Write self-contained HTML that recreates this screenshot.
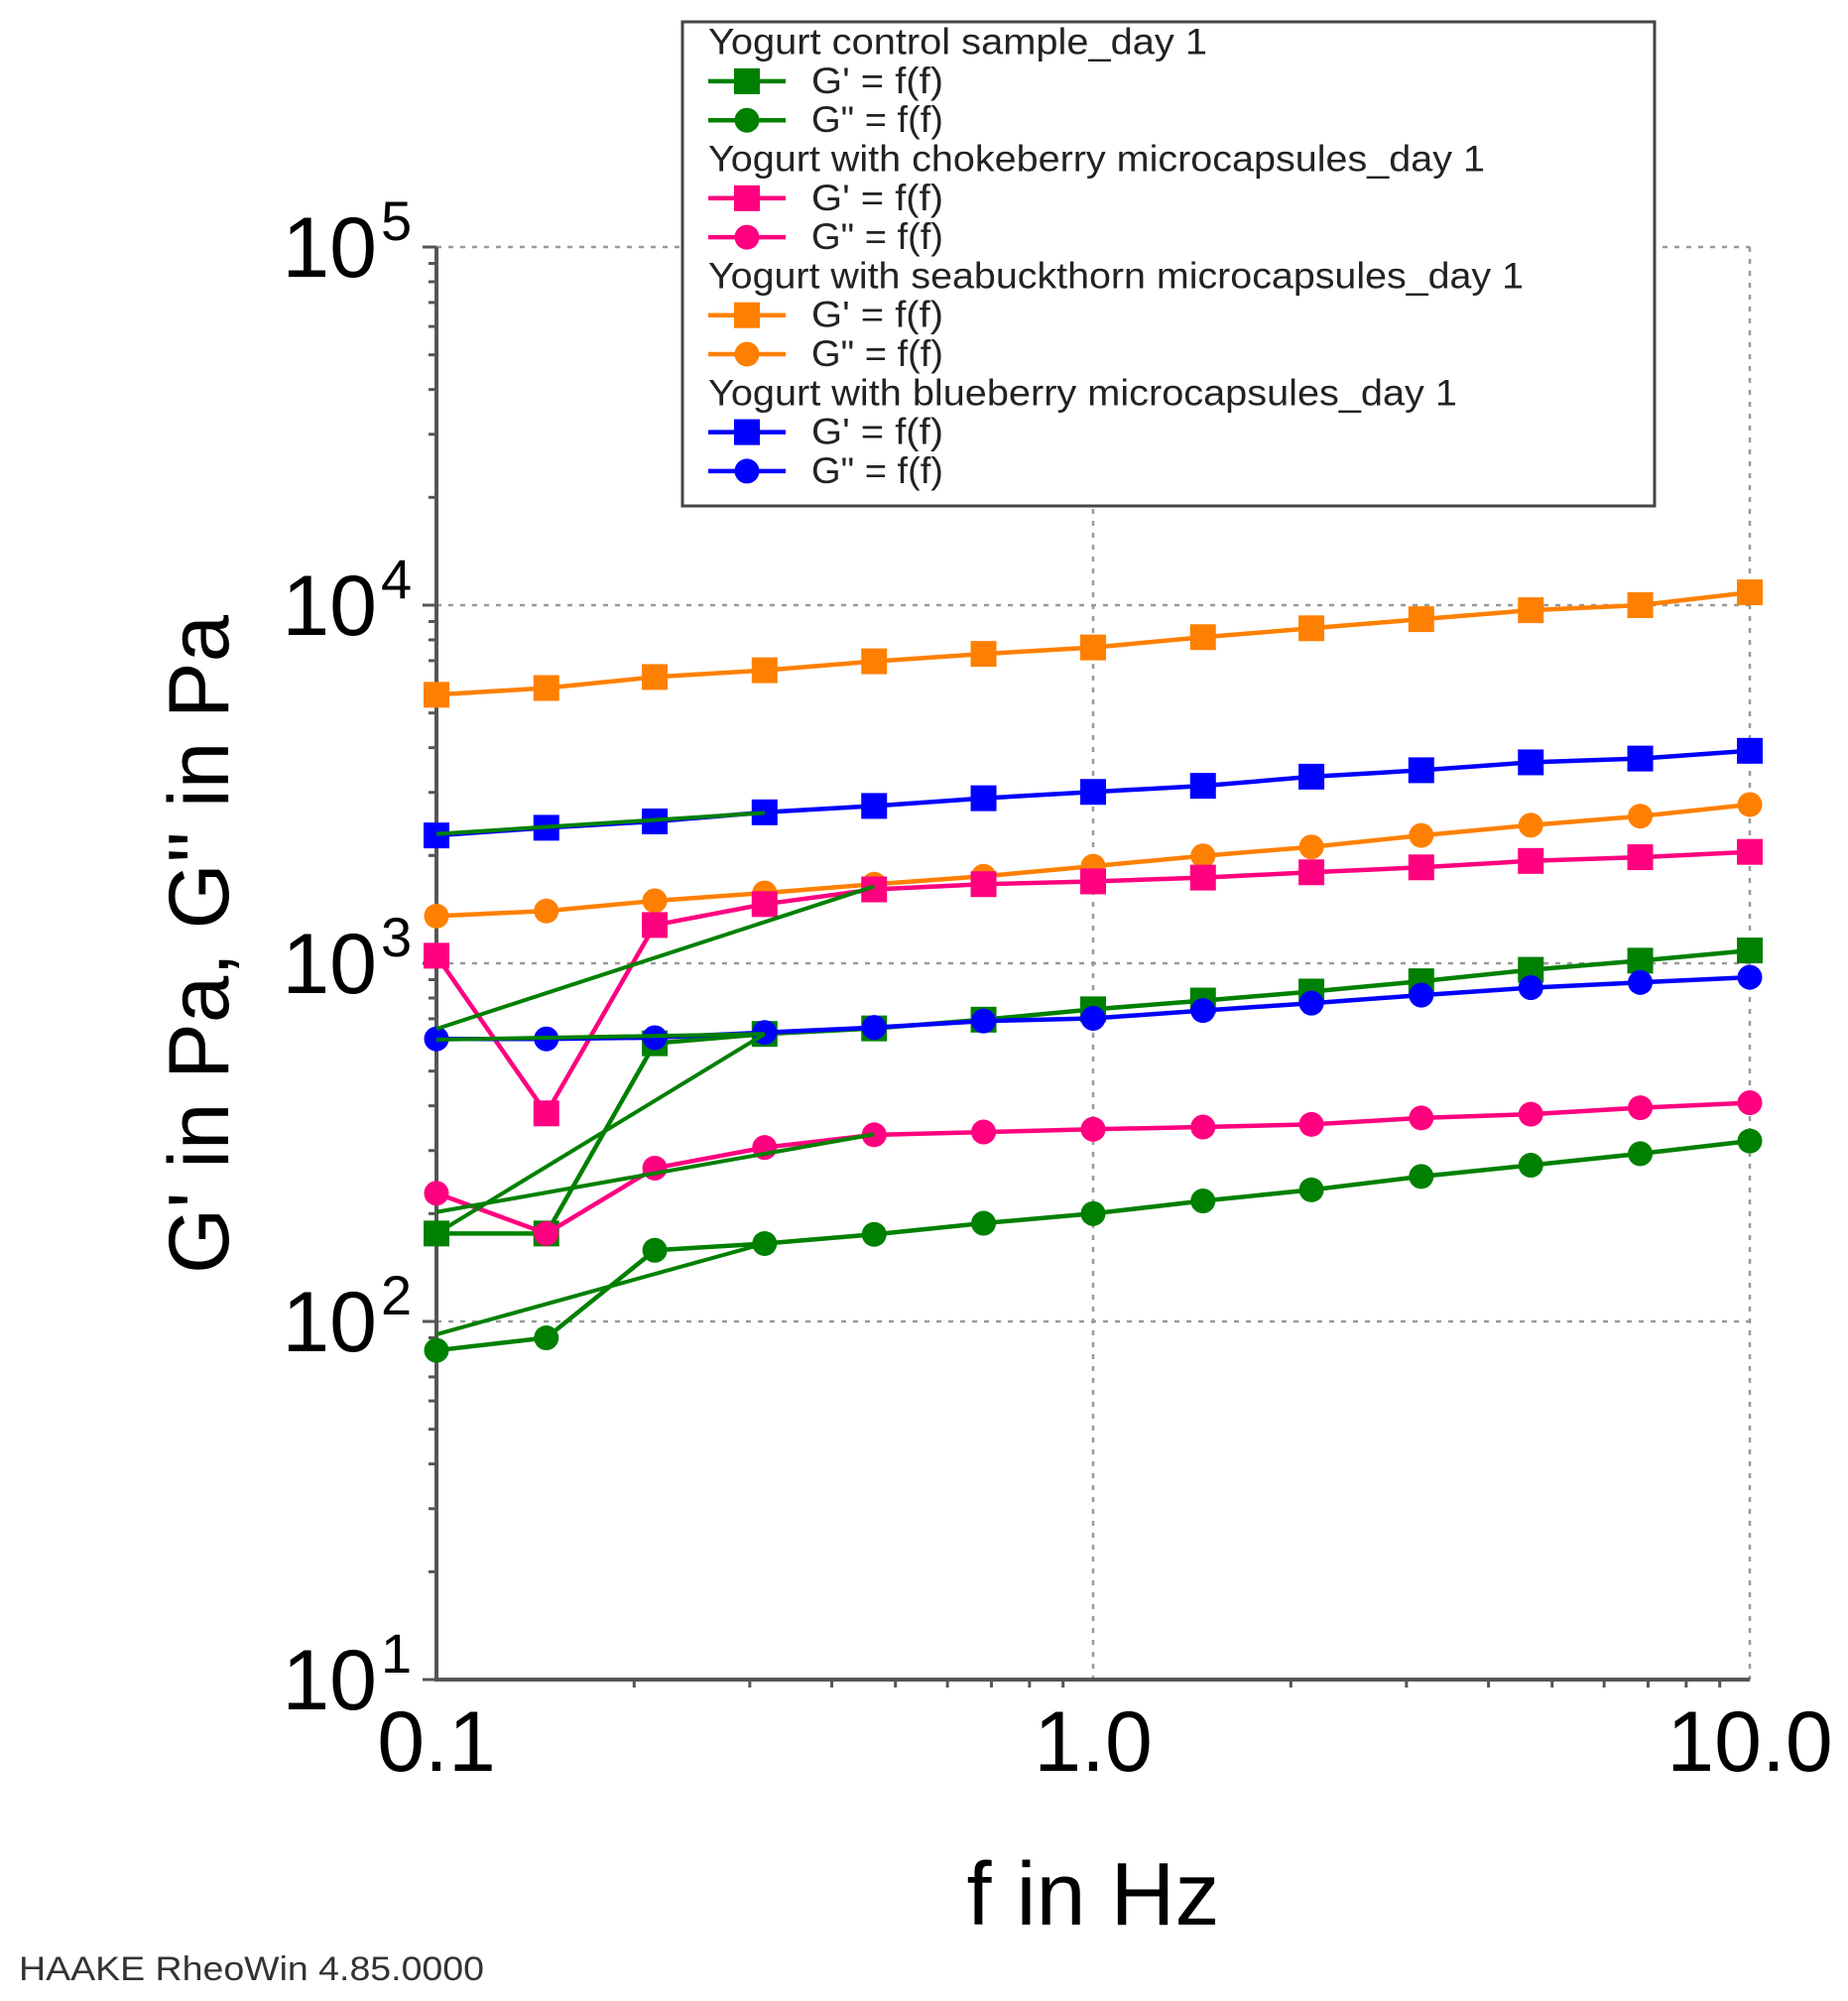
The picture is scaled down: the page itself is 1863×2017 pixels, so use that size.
<!DOCTYPE html>
<html><head><meta charset="utf-8"><style>
html,body{margin:0;padding:0;background:#fff;}
svg{display:block;font-family:"Liberation Sans",sans-serif;}
</style></head><body>
<svg id="chart" width="1863" height="2017" viewBox="0 0 1863 2017" xmlns="http://www.w3.org/2000/svg">
<g id="grid"></g>
<g id="axes"></g>
<g id="series"></g>
<g id="legend"></g>
<text x="1102" y="1940" font-size="90" text-anchor="middle" fill="#000">f in Hz</text>
<text transform="translate(230,952) rotate(-90)" font-size="86" text-anchor="middle" textLength="664" lengthAdjust="spacingAndGlyphs" fill="#000">G' in Pa, G'' in Pa</text>
<text x="19" y="1996" font-size="34" textLength="469" lengthAdjust="spacingAndGlyphs" fill="#333">HAAKE RheoWin 4.85.0000</text>
</svg>
<script>
const freqs = [0.1,0.147,0.215,0.316,0.464,0.681,1.0,1.47,2.15,3.16,4.64,6.81,10];
const xTickLabels = ["0.1","1.0","10.0"];
const xTickValues = [0.1,1,10];
const yTickExps = [1,2,3,4,5];
const controlG1 = [176,176,598,635,658,696,744,787,834,891,959,1017,1086];
const controlG2 = [83,90,158,165,175,188,200,217,233,254,273,294,319];
const chokeG1 = [1050,381,1279,1463,1608,1663,1693,1735,1795,1853,1931,1978,2047];
const chokeG2 = [228,176,268,306,332,338,344,349,355,370,379,395,408];
const seaG1 = [5620,5870,6300,6580,6970,7310,7620,8140,8620,9140,9680,10000,10860];
const seaG2 = [1355,1400,1495,1572,1663,1750,1867,1995,2113,2275,2430,2575,2775];
const blueG1 = [2275,2390,2490,2640,2750,2890,3010,3130,3320,3460,3640,3730,3920];
const blueG2 = [615,615,620,641,662,690,702,738,774,815,855,884,914];
// extra control-sample sweep segments: [f1, v1, f2, v2]
const controlExtraSegs = [
  [0.1,2297,0.316,2630],
  [0.1,656,0.464,1640],
  [0.1,612,0.316,635],
  [0.1,176,0.316,635],
  [0.1,202,0.464,333],
  [0.1,92,0.316,165]
];
const NS='http://www.w3.org/2000/svg';
const X0=440, XD=662, YB=1693, YD=361;
function xs(f){return X0+(Math.log10(f)+1)*XD;}
function ys(v){return YB-(Math.log10(v)-1)*YD;}
function mk(tag,attrs,parent){const e=document.createElementNS(NS,tag);for(const k in attrs)e.setAttribute(k,attrs[k]);parent.appendChild(e);return e;}
const grid=document.getElementById('grid'), axes=document.getElementById('axes'), series=document.getElementById('series'), legend=document.getElementById('legend');
yTickExps.slice(1).forEach(p=>{
  const l=mk('line',{x1:X0,x2:xs(10),y1:ys(Math.pow(10,p)),y2:ys(Math.pow(10,p)),stroke:'#999','stroke-width':2.5,'stroke-dasharray':'5 7'},grid);
  
  
});
xTickValues.slice(1).forEach(v=>{
  const l=mk('line',{x1:xs(v),x2:xs(v),y1:ys(1e5),y2:YB,stroke:'#999','stroke-width':2.5,'stroke-dasharray':'5 7'},grid);
  
  
});
const ax=mk('line',{x1:X0,x2:X0,y1:ys(1e5),y2:YB+2,stroke:'#555','stroke-width':4},axes);


const bx=mk('line',{x1:X0-2,x2:xs(10),y1:YB,y2:YB,stroke:'#555','stroke-width':4},axes);


for(let p=1;p<5;p++){for(let m=2;m<=9;m++){
  const y=ys(m*Math.pow(10,p));
  const t=mk('line',{x1:X0-8,x2:X0,y1:y,y2:y,stroke:'#555','stroke-width':3},axes);
  
  
}}
for(let p=-1;p<1;p++){for(let m=2;m<=9;m++){
  const x=xs(m*Math.pow(10,p));
  const t=mk('line',{x1:x,x2:x,y1:YB,y2:YB+8,stroke:'#555','stroke-width':3},axes);
  
  
}}
yTickExps.forEach(p=>{
  const y=ys(Math.pow(10,p));
  const t=mk('line',{x1:X0-14,x2:X0,y1:y,y2:y,stroke:'#555','stroke-width':3},axes);
  
  
  const tx=mk('text',{x:380,y:y+30,'font-size':86,'text-anchor':'end',fill:'#000'},axes);
  tx.textContent='10';
  
  
  const sp=mk('text',{x:384,y:y-7,'font-size':56,fill:'#000'},axes);
  sp.textContent=String(p);
  
  
});
xTickValues.forEach((v,i)=>{
  const tx=mk('text',{x:xs(v),y:1785,'font-size':86,'text-anchor':'middle',fill:'#000'},axes);
  tx.textContent=xTickLabels[i];
  
  
});
const GREEN='#008000',PINK='#ff0080',ORANGE='#ff8000',BLUE='#0000ff';
function marker(parent,x,y,shape,color){
  let e;
  if(shape==='sq') e=mk('rect',{x:x-13,y:y-13,width:26,height:26,fill:color},parent);
  else e=mk('circle',{cx:x,cy:y,r:12.5,fill:color},parent);
  return e;
}
function drawSeries(name,vals,shape,color){
  const g=mk('g',{},series);
  
  
  const pts=vals.map((v,i)=>xs(freqs[i]).toFixed(1)+','+ys(v).toFixed(1)).join(' ');
  const pl=mk('polyline',{points:pts,fill:'none',stroke:color,'stroke-width':4.5,'stroke-linejoin':'round'},g);
  
  
  vals.forEach((v,i)=>{
    const m=marker(g,xs(freqs[i]),ys(v),shape,color);
    
    
  });
}
drawSeries('seabuckthorn-g-prime',seaG1,'sq',ORANGE);
drawSeries('blueberry-g-prime',blueG1,'sq',BLUE);
drawSeries('seabuckthorn-g-double-prime',seaG2,'ci',ORANGE);
drawSeries('chokeberry-g-prime',chokeG1,'sq',PINK);
drawSeries('control-g-prime',controlG1,'sq',GREEN);
drawSeries('blueberry-g-double-prime',blueG2,'ci',BLUE);
drawSeries('chokeberry-g-double-prime',chokeG2,'ci',PINK);
drawSeries('control-g-double-prime',controlG2,'ci',GREEN);
controlExtraSegs.forEach(s=>{
  const l=mk('line',{x1:xs(s[0]),y1:ys(s[1]),x2:xs(s[2]),y2:ys(s[3]),stroke:GREEN,'stroke-width':4},series);
  
  
});
const lb=mk('rect',{x:688,y:22,width:980,height:488,fill:'#fff',stroke:'#444','stroke-width':3},legend);


const groups=[['Yogurt control sample_day 1',GREEN,503],['Yogurt with chokeberry microcapsules_day 1',PINK,783],['Yogurt with seabuckthorn microcapsules_day 1',ORANGE,822],['Yogurt with blueberry microcapsules_day 1',BLUE,755]];
groups.forEach((gr,gi)=>{
  const base=42.6+39.3*gi*3;
  const h=mk('text',{x:714,y:base+12,'font-size':37,fill:'#222',textLength:gr[2],lengthAdjust:'spacingAndGlyphs'},legend);
  h.textContent=gr[0];
  
  
  ['sq','ci'].forEach((sh,k)=>{
    const cy=base+39.3*(k+1);
    const ln=mk('line',{x1:714,x2:792,y1:cy,y2:cy,stroke:gr[1],'stroke-width':4.5},legend);
    
    
    const m=marker(legend,753,cy,sh,gr[1]);
    
    
    const t=mk('text',{x:818,y:cy+12,'font-size':37,fill:'#222',textLength:133,lengthAdjust:'spacingAndGlyphs'},legend);
    t.textContent=k===0?"G' = f(f)":'G" = f(f)';
    
    
  });
});
</script>
</body></html>
